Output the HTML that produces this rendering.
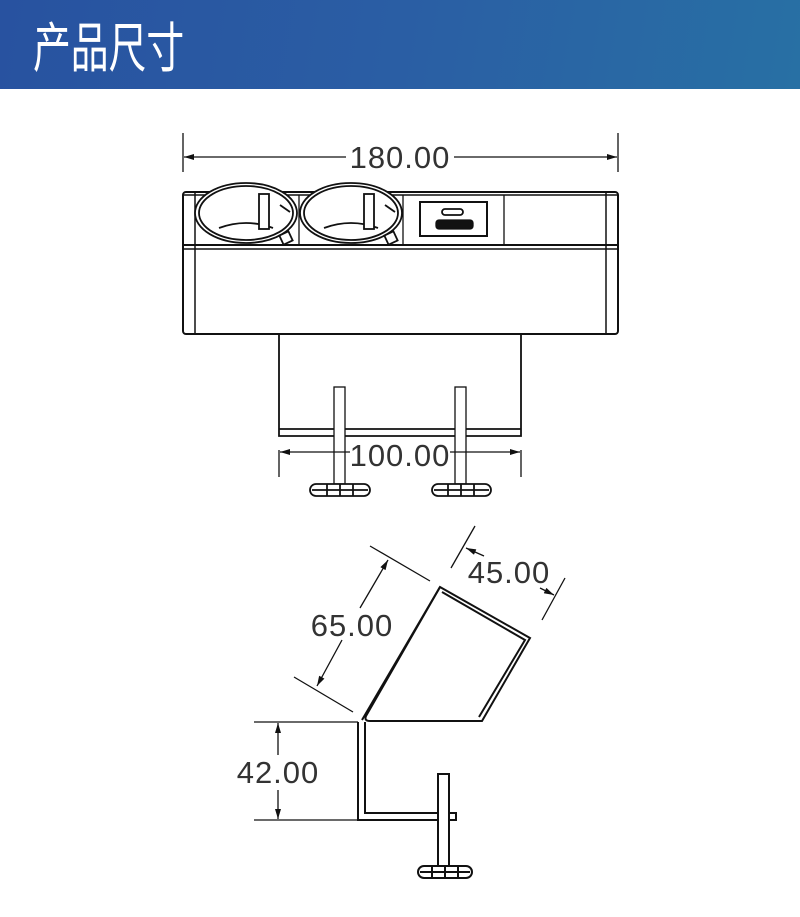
<!DOCTYPE html>
<html><head><meta charset="utf-8"><style>
html,body{margin:0;padding:0;background:#fff;}
.wrap{position:relative;width:800px;height:917px;overflow:hidden;}
.hdr{position:absolute;left:0;top:0;width:800px;height:89px;background:linear-gradient(100deg,#2852a0 0%,#2a5ea4 50%,#2870a4 100%);}
.hdr span{position:absolute;left:33px;top:8px;font:54px "Noto Sans CJK SC","WenQuanYi Zen Hei",sans-serif;color:#fff;line-height:72px;transform:scaleX(0.7);transform-origin:0 0;white-space:nowrap;}
svg{position:absolute;left:0;top:0;}
text{font-family:"Liberation Sans",sans-serif;font-size:31px;fill:#333;letter-spacing:1px;}
</style></head><body><div class="wrap">
<div class="hdr"><span>产品尺寸</span></div>
<svg width="800" height="917" viewBox="0 0 800 917" fill="none" stroke="#111" stroke-width="1.3">
<defs><marker id="a" viewBox="0 0 10 6" refX="10" refY="3" markerWidth="16" markerHeight="6" orient="auto-start-reverse" markerUnits="userSpaceOnUse"><path d="M0,0L10,3L0,6z" fill="#111" stroke="none"/></marker></defs>
<!-- 180 dim -->
<line x1="183" y1="133" x2="183" y2="172"/><line x1="618" y1="133" x2="618" y2="172"/>
<line x1="184" y1="157" x2="346" y2="157" marker-start="url(#a)"/><line x1="454" y1="157" x2="617" y2="157" marker-end="url(#a)"/>
<text x="400" y="168" text-anchor="middle" stroke="none">180.00</text>
<!-- main box -->
<rect x="183" y="192" width="435" height="142" rx="3" stroke-width="2"/>
<line x1="183" y1="245" x2="618" y2="245" stroke-width="2"/><line x1="183" y1="249" x2="618" y2="249" stroke-width="1.5"/>
<line x1="195" y1="193" x2="195" y2="333" stroke-width="1.5"/><line x1="606" y1="193" x2="606" y2="333" stroke-width="1.5"/>
<line x1="183" y1="195" x2="618" y2="195" stroke-width="1.5"/>
<line x1="299" y1="195" x2="299" y2="245"/><line x1="403" y1="195" x2="403" y2="245"/><line x1="504" y1="195" x2="504" y2="245"/>
<g stroke-width="1.8" fill="#fff">
<ellipse cx="246" cy="213" rx="51" ry="30"/><ellipse cx="246" cy="213" rx="47" ry="27"/>
<path d="M219,228 Q246,218 273,228" fill="none"/><rect x="259" y="194" width="10" height="35"/><path d="M280,205 L290,212"/><rect x="281" y="233" width="10" height="10" transform="rotate(-25 286 238)"/>
<ellipse cx="351" cy="213" rx="51" ry="30"/><ellipse cx="351" cy="213" rx="47" ry="27"/>
<path d="M324,228 Q351,218 378,228" fill="none"/><rect x="364" y="194" width="10" height="35"/><path d="M385,205 L395,212"/><rect x="386" y="233" width="10" height="10" transform="rotate(-25 391 238)"/>
</g>
<rect x="420" y="202" width="67" height="34" stroke-width="2"/>
<rect x="442" y="209" width="21" height="6" rx="3" stroke-width="1.8"/>
<rect x="436" y="220" width="37" height="9" rx="3" fill="#111"/>
<!-- lower box -->
<polyline points="279,335 279,436 521,436 521,335" stroke-width="1.8"/>
<line x1="279" y1="429" x2="521" y2="429" stroke-width="1.8"/>
<rect x="334" y="387" width="11" height="97" fill="#fff"/><rect x="455" y="387" width="11" height="97" fill="#fff"/>
<g stroke-width="1.8" fill="#fff">
<rect x="310" y="484" width="60" height="12" rx="6"/><line x1="327" y1="484" x2="327" y2="496"/><line x1="340" y1="484" x2="340" y2="496"/><line x1="353" y1="484" x2="353" y2="496"/><line x1="312" y1="490" x2="368" y2="490"/>
<rect x="432" y="484" width="59" height="12" rx="6"/><line x1="448" y1="484" x2="448" y2="496"/><line x1="461" y1="484" x2="461" y2="496"/><line x1="474" y1="484" x2="474" y2="496"/><line x1="434" y1="490" x2="489" y2="490"/>
</g>
<!-- 100 dim -->
<line x1="279" y1="450" x2="279" y2="477"/><line x1="521" y1="450" x2="521" y2="477"/>
<line x1="280" y1="452" x2="350" y2="452" marker-start="url(#a)"/><line x1="450" y1="452" x2="520" y2="452" marker-end="url(#a)"/>
<text x="400" y="466" text-anchor="middle" stroke="none">100.00</text>
<!-- side view -->
<g stroke-width="2">
<path d="M440,587 L530,638 L482,721 L370,721 Q364,721 366,716 Z"/>
<path d="M442,592 L525,640 L479,717"/>
<path d="M362,720 L440,587"/>
<path d="M358,722 L358,820 L456,820 L456,813 L365,813 L365,722"/>
<rect x="438" y="774" width="11" height="92" fill="#fff"/>
<rect x="418" y="866" width="54" height="12" rx="6" fill="#fff"/>
<line x1="432" y1="866" x2="432" y2="878"/><line x1="445" y1="866" x2="445" y2="878"/><line x1="458" y1="866" x2="458" y2="878"/><line x1="420" y1="872" x2="470" y2="872"/>
</g>
<!-- 42 dim -->
<line x1="254" y1="722" x2="358" y2="722"/><line x1="254" y1="820" x2="358" y2="820"/>
<line x1="278" y1="755" x2="278" y2="723" marker-end="url(#a)"/><line x1="278" y1="790" x2="278" y2="819" marker-end="url(#a)"/>
<text x="278" y="783" text-anchor="middle" stroke="none">42.00</text>
<!-- 65 dim -->
<line x1="370" y1="546" x2="430" y2="581"/><line x1="294" y1="677" x2="353" y2="712"/>
<line x1="360" y1="608" x2="388" y2="560" marker-end="url(#a)"/><line x1="342" y1="640" x2="317" y2="686" marker-end="url(#a)"/>
<text x="352" y="636" text-anchor="middle" stroke="none">65.00</text>
<!-- 45 dim -->
<line x1="475" y1="526" x2="451" y2="568"/><line x1="565" y1="578" x2="542" y2="620"/>
<line x1="484" y1="556" x2="466" y2="548" marker-end="url(#a)"/><line x1="540" y1="588" x2="554" y2="595" marker-end="url(#a)"/>
<text x="509" y="583" text-anchor="middle" stroke="none">45.00</text>
</svg>
</div></body></html>
